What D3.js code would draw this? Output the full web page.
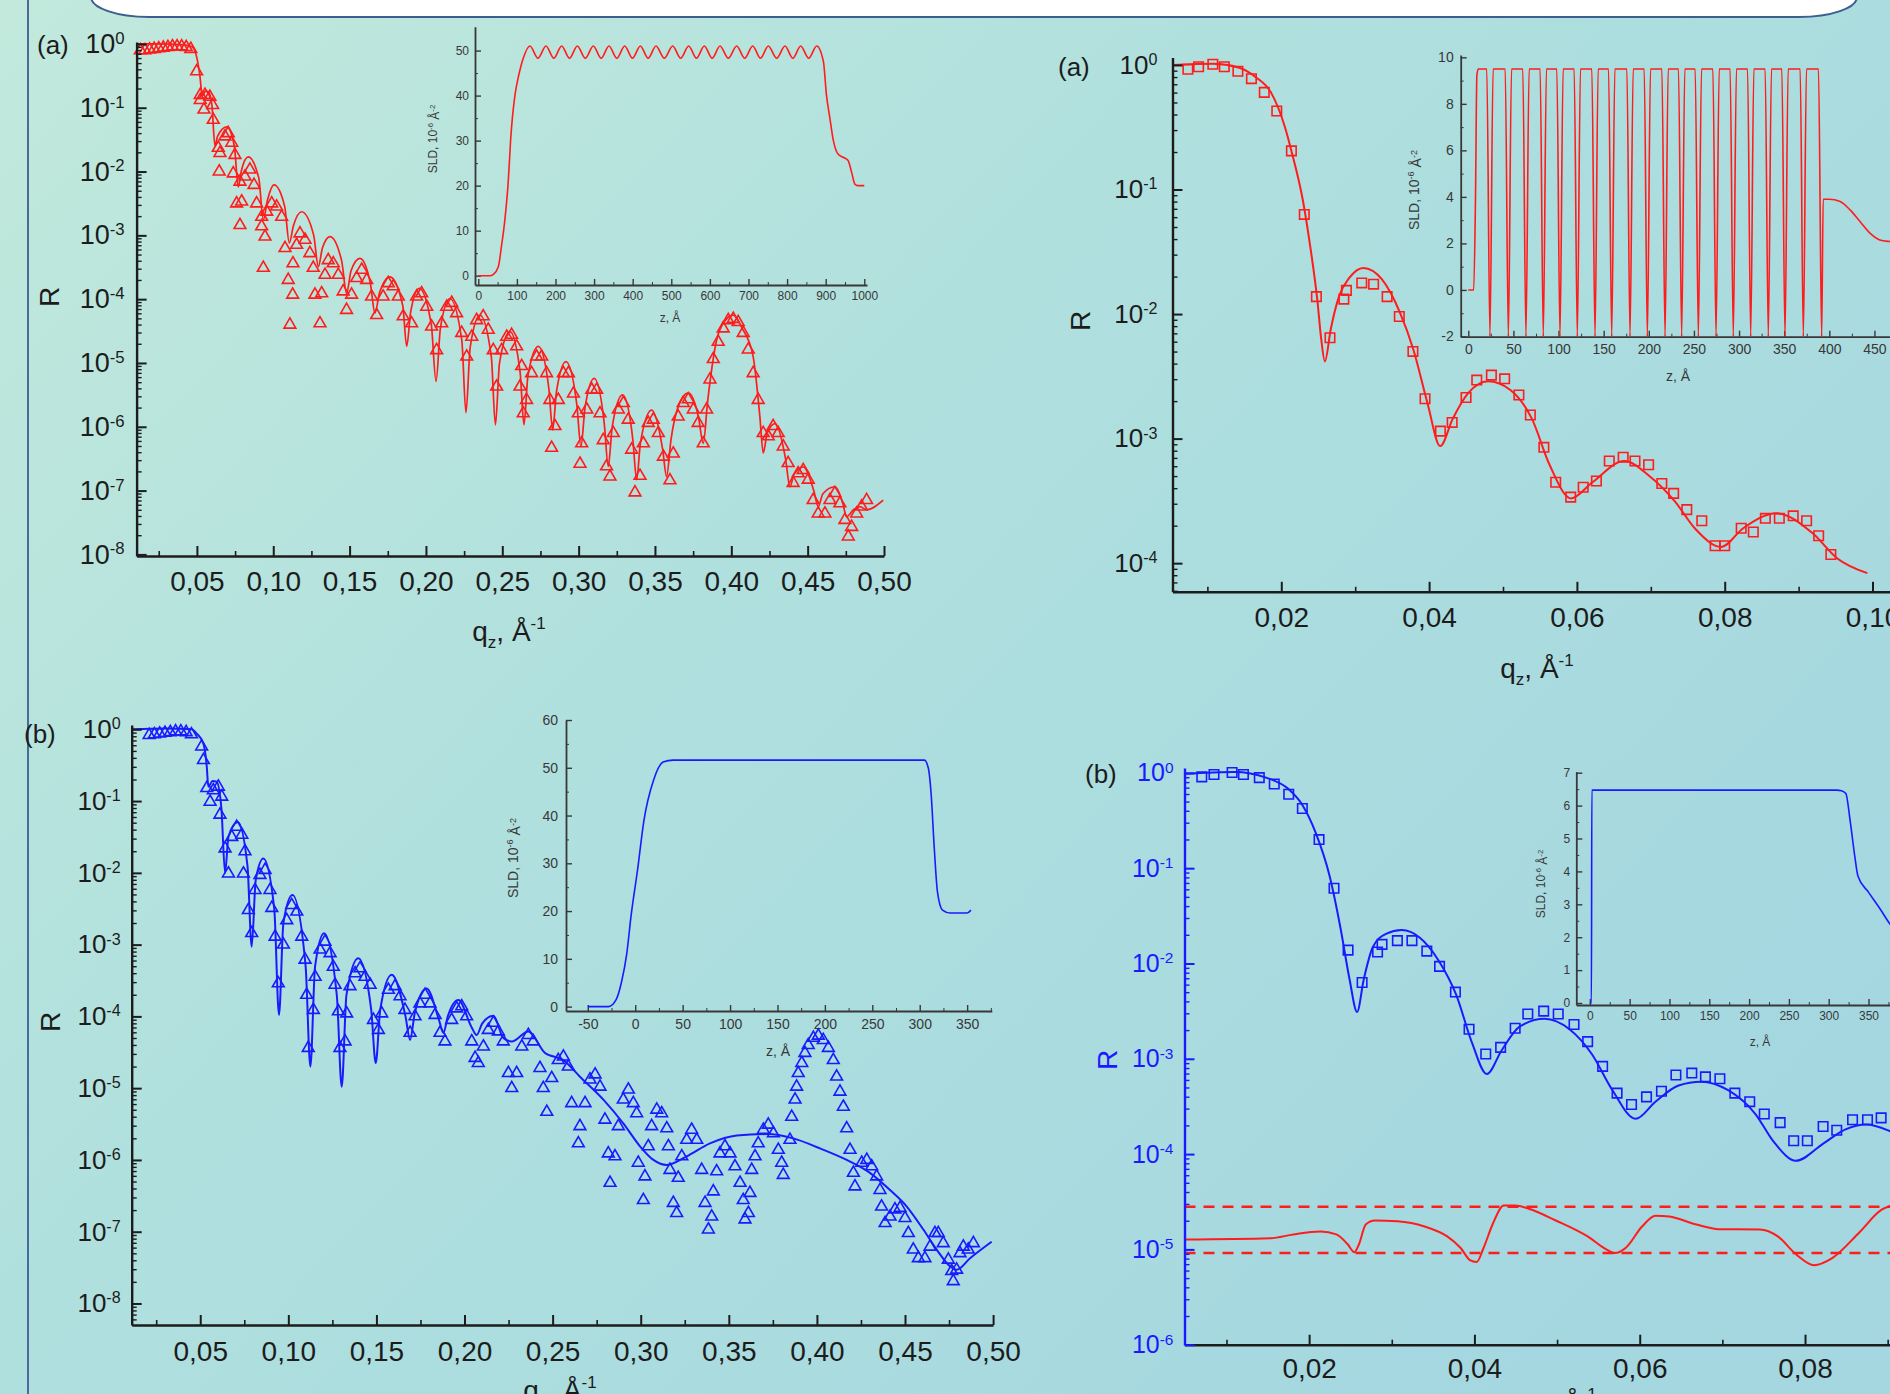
<!DOCTYPE html>
<html>
<head>
<meta charset="utf-8">
<script src="https://cdn.jsdelivr.net/npm/d3@7"></script>
<style>
  html, body { margin: 0; padding: 0; background: #b0e0de; }
  svg { display: block; }
</style>
</head>
<body>
<div id="chart"></div>
<script>
const W = 1890, H = 1394;
const RED = "#ff1c1c", BLUE = "#1a1aff", INK = "#1c1c1c", INSET_INK = "#383838";
const FONT = '"Liberation Sans", Arial, Helvetica, sans-serif';

// ---- data: reflectivity values are stored as log10(R) ----

// (a) left: fit curve and measured points (triangles)
const tlFit = [[0.0105,0],[0.025,0],[0.04,-0.01],[0.0466,-0.04],[0.0498,-0.2],[0.052,-0.51],[0.0535,-0.82],
  [0.0556,-0.74],[0.0575,-0.75],[0.0598,-0.95],[0.0618,-1.6],[0.0635,-1.45],[0.0695,-1.30],[0.0745,-1.6],
  [0.0771,-2.24],[0.0792,-1.98],[0.0836,-1.77],[0.0905,-2.1],[0.0935,-2.76],[0.0962,-2.45],[0.1005,-2.21],
  [0.1075,-2.55],[0.1105,-3.12],[0.1132,-2.85],[0.1186,-2.63],[0.1265,-3.0],[0.1295,-3.49],[0.1322,-3.2],
  [0.1371,-3.02],[0.1448,-3.4],[0.148,-3.91],[0.151,-3.55],[0.1568,-3.36],[0.1636,-3.75],[0.1666,-4.22],
  [0.1696,-3.9],[0.1764,-3.65],[0.1848,-4.1],[0.1874,-4.74],[0.190,-4.2],[0.1956,-3.83],[0.2035,-4.4],
  [0.2066,-5.29],[0.2095,-4.45],[0.2157,-3.99],[0.2235,-4.65],[0.2262,-5.78],[0.229,-4.75],[0.2354,-4.25],
  [0.2428,-4.9],[0.2455,-5.97],[0.2482,-5.0],[0.255,-4.51],[0.2617,-5.15],[0.2642,-5.97],[0.2668,-5.2],
  [0.2736,-4.74],[0.2805,-5.4],[0.283,-6.05],[0.2855,-5.45],[0.2917,-4.98],[0.2988,-5.65],[0.3015,-6.31],
  [0.3042,-5.7],[0.3102,-5.24],[0.3168,-5.95],[0.3194,-6.62],[0.322,-6.0],[0.3288,-5.50],[0.3355,-6.2],
  [0.338,-6.83],[0.3405,-6.25],[0.3478,-5.74],[0.355,-6.35],[0.3576,-6.78],[0.3605,-6.2],[0.365,-5.7],
  [0.3718,-5.47],[0.3785,-5.85],[0.3816,-6.26],[0.3845,-5.6],[0.3904,-4.64],[0.3955,-4.35],[0.4012,-4.25],
  [0.407,-4.45],[0.4143,-4.90],[0.4187,-5.84],[0.4209,-6.41],[0.4235,-6.1],[0.4286,-5.95],[0.4355,-6.5],
  [0.4384,-6.94],[0.441,-6.75],[0.4471,-6.63],[0.454,-7.0],[0.4569,-7.25],[0.46,-7.05],[0.4678,-6.94],
  [0.473,-7.2],[0.4755,-7.41],[0.48,-7.3],[0.4842,-7.25],[0.4886,-7.3],[0.4995,-7.15]];

const tlPoints = [[0.013,-0.10],[0.016,-0.10],[0.019,-0.09],[0.022,-0.08],[0.025,-0.07],[0.028,-0.06],[0.031,-0.05],
  [0.034,-0.04],[0.037,-0.04],[0.040,-0.04],[0.043,-0.05],[0.046,-0.08],[0.0498,-0.43],[0.0522,-0.80],[0.0522,-0.88],
  [0.0553,-0.80],[0.0585,-0.83],[0.0603,-0.96],[0.0546,-1.03],[0.0607,-1.19],[0.064,-1.63],[0.0651,-1.71],
  [0.0684,-1.45],[0.0705,-1.40],[0.0728,-1.55],[0.0749,-1.74],[0.0646,-2.0],[0.0738,-2.03],[0.0782,-2.16],
  [0.0815,-2.08],[0.0847,-1.97],[0.0874,-2.21],[0.0793,-2.47],[0.076,-2.50],[0.0782,-2.84],[0.0891,-2.50],
  [0.0924,-2.71],[0.0957,-2.63],[0.099,-2.50],[0.1022,-2.55],[0.1055,-2.71],[0.0924,-2.86],[0.0946,-3.02],
  [0.0935,-3.51],[0.1077,-3.20],[0.1098,-3.70],[0.1127,-3.93],[0.1109,-4.40],[0.1129,-3.44],[0.1153,-3.15],
  [0.1175,-2.97],[0.1208,-3.07],[0.124,-3.28],[0.1262,-3.51],[0.1273,-3.93],[0.1306,-4.38],[0.1317,-3.91],
  [0.1339,-3.62],[0.136,-3.39],[0.1393,-3.44],[0.1426,-3.62],[0.1458,-3.88],[0.148,-4.17],[0.1513,-3.93],
  [0.1546,-3.67],[0.1579,-3.54],[0.1612,-3.70],[0.1644,-3.96],[0.1677,-4.25],[0.172,-3.96],[0.1753,-3.75],
  [0.1786,-3.80],[0.1819,-3.96],[0.1851,-4.27],[0.1906,-4.38],[0.1939,-3.96],[0.1972,-3.91],[0.2005,-4.12],
  [0.2037,-4.43],[0.207,-4.80],[0.2103,-4.38],[0.2136,-4.12],[0.2169,-4.06],[0.2201,-4.22],[0.2234,-4.53],
  [0.2267,-4.90],[0.23,-4.59],[0.2332,-4.33],[0.2375,-4.27],[0.2408,-4.48],[0.2441,-4.80],[0.2463,-5.37],
  [0.2496,-4.80],[0.2529,-4.59],[0.2561,-4.56],[0.2594,-4.74],[0.2627,-5.05],[0.2616,-5.37],[0.2637,-5.79],
  [0.2659,-5.58],[0.2692,-5.16],[0.2725,-4.90],[0.2758,-4.90],[0.279,-5.16],[0.2812,-5.58],[0.2823,-6.33],
  [0.2845,-5.99],[0.2867,-5.58],[0.29,-5.16],[0.2933,-5.16],[0.2966,-5.48],[0.2998,-5.79],[0.3009,-6.58],
  [0.302,-6.26],[0.3053,-5.73],[0.3086,-5.42],[0.3118,-5.42],[0.314,-5.79],[0.3161,-6.21],[0.3183,-6.62],
  [0.3205,-6.78],[0.3227,-6.10],[0.326,-5.73],[0.3293,-5.63],[0.3325,-5.89],[0.3347,-6.36],[0.3369,-7.03],
  [0.3402,-6.77],[0.3424,-6.26],[0.3456,-5.94],[0.3489,-5.89],[0.3522,-6.10],[0.3555,-6.47],[0.3598,-6.84],
  [0.362,-6.42],[0.3652,-5.84],[0.3685,-5.63],[0.3718,-5.57],[0.3751,-5.73],[0.3783,-5.94],[0.3816,-6.26],
  [0.3838,-5.73],[0.386,-5.26],[0.3882,-4.94],[0.3914,-4.67],[0.3947,-4.46],[0.398,-4.33],[0.4013,-4.31],
  [0.4045,-4.36],[0.4078,-4.53],[0.4111,-4.79],[0.4143,-5.16],[0.4176,-5.58],[0.4209,-6.10],[0.4242,-6.15],
  [0.4274,-5.99],[0.4307,-6.10],[0.434,-6.31],[0.4372,-6.57],[0.4405,-6.88],[0.4438,-6.73],[0.4471,-6.68],
  [0.4504,-6.83],[0.4536,-7.15],[0.4569,-7.36],[0.4613,-7.36],[0.4646,-7.15],[0.4678,-7.04],[0.4711,-7.20],
  [0.4744,-7.46],[0.4766,-7.72],[0.4788,-7.57],[0.4821,-7.36],[0.4853,-7.25],[0.4886,-7.15]];

// (a) left inset: SLD profile (z in Å, SLD in 1e-6 Å^-2)
const tlSldRise = [[0,0],[30,0],[39,0.3],[52,2],[60,6.5],[69,12.5],[78,21.4],[84,30.4],[95,40.1],[104,44.2],[117,48.4]];
const tlSldWave = [[133.9,51],[154.6,48.3],[175.4,51],[195.7,48.3],[216,51],[236.3,48.3],[256.6,51],[277.3,48.3],
  [298,51],[318.3,48.3],[338.6,51],[359,48.3],[379.3,51],[399.5,48.3],[419.8,51],[440.1,48.3],[460.4,51],
  [482,48.3],[503.6,51],[524.3,48.3],[545,51],[565.3,48.3],[585.5,51],[605.9,48.3],[626.2,51],[647.8,48.3],
  [669.4,51],[690.2,48.3],[710.9,51],[731.1,48.3],[751.3,51],[773,48.3],[794.6,51],[814.9,48.3],[835.2,51],
  [856,48.3],[876.7,51]];
const tlSldFall = [[894,47.6],[902,40.1],[911,34.9],[919,30.4],[932,27.0],[945,26.3],[958,25.6],[967,23.0],
  [976,20.3],[985,20],[1000,20]];

// (a) right: fit curve and measured points (squares)
const trFit = [[0.00528,0],[0.0108,0.01],[0.0142,-0.02],[0.0166,-0.10],[0.0186,-0.22],[0.0205,-0.50],
  [0.02137,-0.69],[0.0229,-1.08],[0.0239,-1.45],[0.0249,-1.9],[0.0254,-2.2],[0.0259,-2.38],[0.0267,-2.12],
  [0.0278,-1.86],[0.0292,-1.71],[0.0311,-1.63],[0.0336,-1.72],[0.036,-1.98],[0.0379,-2.29],[0.0398,-2.72],
  [0.0415,-3.06],[0.0432,-2.84],[0.0452,-2.64],[0.048,-2.54],[0.051,-2.61],[0.0539,-2.84],[0.0563,-3.21],
  [0.0592,-3.48],[0.0621,-3.35],[0.0664,-3.18],[0.0698,-3.30],[0.0732,-3.50],[0.0761,-3.73],[0.0795,-3.87],
  [0.0825,-3.72],[0.087,-3.60],[0.0919,-3.76],[0.0952,-3.96],[0.0993,-4.08]];
const trPoints = [[0.00736,-0.034],[0.00881,-0.014],[0.01074,0.006],[0.01229,-0.014],[0.01413,-0.05],
  [0.01596,-0.11],[0.0177,-0.22],[0.01939,-0.37],[0.02137,-0.69],[0.02311,-1.20],[0.02475,-1.86],
  [0.02659,-2.19],[0.02847,-1.88],[0.02881,-1.81],[0.03089,-1.75],[0.03249,-1.76],[0.03432,-1.86],
  [0.03597,-2.02],[0.03781,-2.30],[0.03945,-2.68],[0.04153,-2.94],[0.04312,-2.87],[0.045,-2.67],
  [0.04645,-2.53],[0.04843,-2.49],[0.05022,-2.52],[0.05215,-2.65],[0.0537,-2.81],[0.05553,-3.07],
  [0.05713,-3.35],[0.05916,-3.47],[0.06085,-3.39],[0.06264,-3.34],[0.06438,-3.18],[0.06626,-3.15],
  [0.06786,-3.18],[0.0697,-3.21],[0.07149,-3.36],[0.07309,-3.44],[0.07487,-3.57],[0.0769,-3.66],
  [0.0787,-3.86],[0.08,-3.86],[0.08223,-3.72],[0.08387,-3.75],[0.0855,-3.64],[0.08739,-3.64],
  [0.08927,-3.62],[0.09108,-3.66],[0.09271,-3.78],[0.09436,-3.93]];

// (a) right inset: multilayer SLD profile
const trSld = [[0,0],[6,0],[8,4],[9.5,9.2],[11,9.5],
  [20.5,9.5],[24.0,-2],[27.5,9.5],[40.9,9.5],[44.4,-2],[47.9,9.5],[60.4,9.5],[63.9,-2],[67.4,9.5],
  [79.6,9.5],[83.1,-2],[86.6,9.5],[98.1,9.5],[101.6,-2],[105.1,9.5],[117.3,9.5],[120.8,-2],[124.3,9.5],
  [136.9,9.5],[140.4,-2],[143.9,9.5],[155.4,9.5],[158.9,-2],[162.4,9.5],[175.7,9.5],[179.2,-2],[182.7,9.5],
  [194.9,9.5],[198.4,-2],[201.9,9.5],[214.5,9.5],[218.0,-2],[221.5,9.5],[232.9,9.5],[236.4,-2],[239.9,9.5],
  [251.4,9.5],[254.9,-2],[258.4,9.5],[271.0,9.5],[274.5,-2],[278.0,9.5],[290.1,9.5],[293.6,-2],[297.1,9.5],
  [309.4,9.5],[312.9,-2],[316.4,9.5],[328.9,9.5],[332.4,-2],[335.9,9.5],[347.4,9.5],[350.9,-2],[354.4,9.5],
  [367.7,9.5],[371.2,-2],[374.7,9.5],[388,9.5],[391.5,-2],[393.2,3.9],[400,3.9],[412,3.8],[423,3.44],
  [434,2.94],[445,2.44],[456,2.15],[467,2.08],[480,2.05]];

// (b) left: fit curve and measured points (triangles)
const blFit = [[0.0111,0],[0.03,0.01],[0.045,0],[0.048,-0.06],[0.0518,-0.2],[0.0537,-0.52],[0.0546,-0.8],
  [0.057,-0.72],[0.0593,-0.73],[0.062,-1.1],[0.0641,-2.0],[0.066,-1.5],[0.0713,-1.29],[0.0768,-1.9],
  [0.0792,-3.03],[0.0815,-2.1],[0.0858,-1.80],[0.092,-2.5],[0.0947,-3.98],[0.0972,-2.7],[0.1023,-2.31],
  [0.1098,-3.3],[0.1125,-4.70],[0.1152,-3.3],[0.1203,-2.84],[0.1275,-3.7],[0.1303,-4.98],[0.133,-3.7],
  [0.1397,-3.19],[0.147,-3.9],[0.1496,-4.65],[0.1522,-3.9],[0.1587,-3.42],[0.1665,-4.0],[0.1691,-4.33],
  [0.1718,-3.95],[0.1785,-3.61],[0.1855,-4.05],[0.188,-4.23],[0.1905,-4.0],[0.1965,-3.77],[0.204,-4.15],
  [0.2069,-4.26],[0.21,-4.1],[0.2164,-3.99],[0.222,-4.3],[0.2268,-4.35],[0.2362,-4.21],[0.2457,-4.51],
  [0.2561,-4.61],[0.2655,-4.84],[0.2788,-5.16],[0.2901,-5.49],[0.2996,-5.81],[0.3072,-6.0],[0.3148,-6.07],
  [0.3261,-5.95],[0.3393,-5.77],[0.3545,-5.66],[0.3715,-5.64],[0.3866,-5.70],[0.4018,-5.84],[0.4169,-6.0],
  [0.4301,-6.18],[0.4415,-6.42],[0.451,-6.65],[0.4604,-6.97],[0.468,-7.25],[0.4755,-7.48],[0.4793,-7.53],
  [0.4869,-7.37],[0.4992,-7.14]];

const blPoints = [[0.021,-0.08],[0.024,-0.07],[0.027,-0.06],[0.030,-0.05],[0.033,-0.04],[0.036,-0.03],[0.039,-0.03],
  [0.042,-0.04],[0.045,-0.07],[0.0508,-0.24],[0.0518,-0.43],[0.0537,-0.82],[0.0556,-1.01],[0.0574,-0.85],
  [0.0603,-0.80],[0.0622,-0.94],[0.0612,-1.19],[0.0641,-1.66],[0.066,-2.01],[0.0679,-1.50],[0.0707,-1.36],
  [0.0736,-1.47],[0.0754,-1.70],[0.0745,-2.01],[0.0773,-2.52],[0.0792,-2.84],[0.0811,-2.24],[0.0839,-2.03],
  [0.0868,-1.96],[0.0896,-2.24],[0.0906,-2.49],[0.0925,-2.89],[0.0943,-3.54],[0.0972,-3.00],[0.0991,-2.66],
  [0.1019,-2.45],[0.1048,-2.54],[0.1076,-2.89],[0.1095,-3.21],[0.1104,-3.70],[0.1113,-4.44],[0.1142,-3.91],
  [0.1152,-3.45],[0.118,-3.07],[0.1208,-2.96],[0.1237,-3.12],[0.1255,-3.31],[0.1265,-3.56],[0.1284,-3.93],
  [0.1293,-4.44],[0.1322,-4.35],[0.1331,-3.96],[0.135,-3.58],[0.1379,-3.40],[0.1407,-3.33],[0.1435,-3.45],
  [0.1464,-3.56],[0.1483,-4.05],[0.1511,-4.19],[0.153,-3.96],[0.1568,-3.63],[0.1606,-3.58],[0.1634,-3.72],
  [0.1662,-3.91],[0.1691,-4.23],[0.1719,-4.00],[0.1747,-3.82],[0.1776,-3.70],[0.1804,-3.82],[0.1833,-3.98],
  [0.1861,-4.23],[0.1889,-4.35],[0.1927,-4.05],[0.1956,-3.89],[0.1984,-3.86],[0.2012,-4.00],[0.2041,-4.35],
  [0.206,-4.58],[0.2078,-4.65],[0.2107,-4.42],[0.2135,-4.19],[0.2164,-4.09],[0.2192,-4.21],[0.222,-4.35],
  [0.2249,-4.79],[0.2268,-5.00],[0.2296,-4.79],[0.2325,-4.42],[0.2362,-4.26],[0.239,-4.35],[0.2428,-4.72],
  [0.2447,-5.00],[0.2467,-5.33],[0.2495,-4.86],[0.2532,-4.61],[0.2561,-4.56],[0.2589,-4.70],[0.2608,-5.21],
  [0.2655,-5.53],[0.2646,-5.77],[0.2684,-5.21],[0.2712,-4.88],[0.2741,-4.81],[0.2769,-4.98],[0.2797,-5.44],
  [0.2826,-6.32],[0.2816,-5.91],[0.2854,-5.95],[0.2873,-5.53],[0.2901,-5.16],[0.293,-5.02],[0.2958,-5.21],
  [0.2977,-5.35],[0.2986,-6.04],[0.3015,-6.56],[0.3024,-6.23],[0.3043,-5.81],[0.3062,-5.53],[0.3091,-5.30],
  [0.3119,-5.35],[0.3148,-5.56],[0.3157,-5.81],[0.3166,-6.14],[0.3185,-6.60],[0.3204,-6.74],[0.3213,-6.25],
  [0.3233,-5.95],[0.3261,-5.72],[0.3289,-5.58],[0.3318,-5.72],[0.3346,-6.14],[0.3365,-6.60],[0.3384,-6.97],
  [0.3403,-6.79],[0.3412,-6.44],[0.3431,-6.16],[0.345,-5.91],[0.3478,-5.81],[0.3507,-5.91],[0.3535,-6.09],
  [0.3564,-6.32],[0.3582,-6.56],[0.3592,-6.83],[0.3611,-6.74],[0.362,-6.46],[0.363,-6.14],[0.3649,-5.95],
  [0.3667,-5.77],[0.3696,-5.58],[0.3724,-5.51],[0.3753,-5.63],[0.3781,-5.86],[0.38,-6.04],[0.3809,-6.21],
  [0.3847,-5.72],[0.3857,-5.40],[0.3876,-5.16],[0.3885,-4.98],[0.3894,-4.79],[0.3914,-4.65],[0.3932,-4.51],
  [0.3951,-4.40],[0.398,-4.30],[0.4008,-4.27],[0.4036,-4.33],[0.4065,-4.44],[0.4093,-4.61],[0.4112,-4.84],
  [0.4131,-5.05],[0.415,-5.26],[0.4169,-5.56],[0.4188,-5.86],[0.4207,-6.18],[0.4216,-6.37],[0.4254,-6.04],
  [0.4283,-6.0],[0.4311,-6.09],[0.4339,-6.23],[0.4358,-6.42],[0.4367,-6.65],[0.4387,-6.88],[0.4415,-6.79],
  [0.4443,-6.69],[0.4472,-6.67],[0.45,-6.81],[0.4519,-7.02],[0.4547,-7.25],[0.4576,-7.37],[0.4613,-7.37],
  [0.4642,-7.21],[0.467,-7.02],[0.4689,-7.02],[0.4717,-7.16],[0.4746,-7.39],[0.4765,-7.55],[0.4774,-7.69],
  [0.4793,-7.53],[0.4812,-7.30],[0.4831,-7.21],[0.4859,-7.25],[0.4888,-7.16]];

// (b) left inset: SLD profile
const blSld = [[-50,0],[-28,0],[-20,1.5],[-14.4,5.2],[-9,11],[-4.2,19.3],[2.5,28.7],[9.2,39],[19.3,47.4],
  [29.4,51.2],[40,51.6],[305,51.6],[309,50],[312,44.6],[315.3,33.3],[318.7,24],[324,20.2],[332,19.6],
  [350,19.6],[354,20.2]];

// (b) right: fit, measured points (squares), residual curve and its limits
const brFit = [[0.00492,-0.01],[0.011,0.01],[0.0148,-0.05],[0.0175,-0.17],[0.0192,-0.34],[0.0208,-0.63],
  [0.0225,-1.09],[0.0238,-1.63],[0.0249,-2.17],[0.0258,-2.51],[0.0266,-2.17],[0.0277,-1.83],[0.0293,-1.69],
  [0.0312,-1.65],[0.0334,-1.73],[0.0356,-1.96],[0.0378,-2.33],[0.0397,-2.83],[0.0415,-3.16],[0.0433,-2.91],
  [0.0455,-2.66],[0.0485,-2.58],[0.0515,-2.69],[0.0542,-2.95],[0.0567,-3.33],[0.0595,-3.63],[0.0619,-3.45],
  [0.0647,-3.28],[0.0674,-3.24],[0.0707,-3.33],[0.074,-3.58],[0.0762,-3.87],[0.0789,-4.07],[0.0822,-3.89],
  [0.0849,-3.74],[0.0874,-3.69],[0.0903,-3.76],[0.095,-4.0]];
const brPoints = [[0.00701,-0.042],[0.00849,-0.017],[0.01068,0.004],[0.01205,-0.017],[0.01397,-0.05],
  [0.01578,-0.117],[0.01753,-0.225],[0.01918,-0.374],[0.0212,-0.70],[0.02301,-1.21],[0.02471,-1.86],
  [0.02641,-2.20],[0.02828,-1.88],[0.02882,-1.80],[0.03068,-1.76],[0.03244,-1.76],[0.03424,-1.87],
  [0.03578,-2.03],[0.0377,-2.30],[0.03935,-2.69],[0.04137,-2.95],[0.04317,-2.88],[0.04493,-2.68],
  [0.04646,-2.53],[0.04838,-2.50],[0.05014,-2.53],[0.05205,-2.64],[0.0537,-2.82],[0.05551,-3.08],
  [0.05726,-3.36],[0.05901,-3.48],[0.06082,-3.40],[0.06263,-3.34],[0.06438,-3.17],[0.0663,-3.15],
  [0.06795,-3.19],[0.0697,-3.21],[0.07151,-3.36],[0.07331,-3.45],[0.07507,-3.58],[0.07699,-3.67],
  [0.07863,-3.86],[0.08028,-3.86],[0.08219,-3.71],[0.08384,-3.75],[0.08575,-3.64],[0.08756,-3.64],
  [0.08921,-3.62]];
const brResidual = [[0.00492,-4.896],[0.01534,-4.883],[0.01808,-4.843],[0.02137,-4.813],[0.02329,-4.843],
  [0.02466,-4.946],[0.02548,-5.029],[0.02603,-4.946],[0.02685,-4.739],[0.02794,-4.697],[0.03068,-4.705],
  [0.03397,-4.760],[0.03671,-4.864],[0.03836,-4.988],[0.03946,-5.112],[0.04027,-5.132],[0.04109,-4.988],
  [0.04219,-4.739],[0.04356,-4.539],[0.04492,-4.539],[0.04657,-4.573],[0.04986,-4.697],[0.0537,-4.864],
  [0.05589,-4.996],[0.05699,-5.038],[0.05836,-4.979],[0.06028,-4.760],[0.06191,-4.647],[0.06356,-4.656],
  [0.06685,-4.739],[0.06958,-4.788],[0.07452,-4.792],[0.07671,-4.864],[0.0789,-5.05],[0.0811,-5.166],
  [0.08329,-5.091],[0.08657,-4.822],[0.08932,-4.581],[0.0905,-4.54]];
const brLimits = [-4.552, -5.038];

// (b) right inset: SLD profile
const brSld = [[0,0],[2,0],[2.5,6.47],[310,6.47],[316,6.45],[321.5,6.37],[327,5.53],[332.8,4.45],
  [336.8,3.85],[349.9,3.37],[364,2.88],[377,2.40],[400,1.9]];

// ---- page ----
const svg = d3.select("#chart").append("svg")
  .attr("width", W).attr("height", H)
  .attr("font-family", FONT);

const defs = svg.append("defs");
const bg = defs.append("linearGradient").attr("id", "bg")
  .attr("x1", 0).attr("y1", 0).attr("x2", 1).attr("y2", 0.7);
bg.append("stop").attr("offset", "0%").attr("stop-color", "#c2e9dc");
bg.append("stop").attr("offset", "45%").attr("stop-color", "#b0e0de");
bg.append("stop").attr("offset", "100%").attr("stop-color", "#a4d7e0");
svg.append("rect").attr("width", W).attr("height", H).attr("fill", "url(#bg)");

// white header box cut by the top edge, and the frame line on the left
svg.append("rect")
  .attr("x", 91).attr("y", -60).attr("width", 1766).attr("height", 77)
  .attr("rx", 58).attr("ry", 20)
  .attr("fill", "#ffffff").attr("stroke", "#3d5f8e").attr("stroke-width", 2);
svg.append("line")
  .attr("x1", 28).attr("x2", 28).attr("y1", 0).attr("y2", H)
  .attr("stroke", "#4a6b98").attr("stroke-width", 2);

const pow10 = v => Math.pow(10, v);
const plain = d => String(d);   // "-2", "1000": hyphen minus, no thousands separator

// ---- helpers ----
function xAxisMain(p, x) {
  const minor = svg.append("g").attr("transform", `translate(0,${p.yRange[0]})`).attr("color", INK)
    .call(d3.axisBottom(x).tickValues(p.xMinor).tickSizeInner(-5).tickSizeOuter(0).tickFormat(""));
  minor.select(".domain").remove();
  minor.selectAll(".tick line").attr("stroke-width", 1.6);

  const a = svg.append("g").attr("transform", `translate(0,${p.yRange[0]})`).attr("color", INK)
    .call(d3.axisBottom(x).tickValues(p.xMajor).tickSizeInner(-10).tickSizeOuter(0)
      .tickPadding(p.xPad).tickFormat(d => d3.format(".2f")(d).replace(".", ",")));
  a.attr("font-family", FONT).attr("font-size", p.xFont);
  a.select(".domain").attr("stroke-width", 2.4);
  a.selectAll(".tick line").attr("stroke-width", 2);
  a.selectAll(".tick text").attr("fill", INK);
}

function yAxisLog(p, y) {
  const lo = Math.ceil(p.yLog[0]), hi = Math.floor(p.yLog[1]);
  const majors = d3.range(lo, hi + 1).map(pow10);
  const minors = [];
  d3.range(lo - 1, hi + 1).forEach(k => d3.range(2, 10).forEach(m => {
    const v = m * pow10(k);
    if (v > y.domain()[0] && v < y.domain()[1]) minors.push(v);
  }));

  const minor = svg.append("g").attr("transform", `translate(${p.xRange[0]},0)`).attr("color", p.axisColor)
    .call(d3.axisLeft(y).tickValues(minors).tickSizeInner(-5).tickSizeOuter(0).tickFormat(""));
  minor.select(".domain").remove();
  minor.selectAll(".tick line").attr("stroke-width", 1.4);

  const a = svg.append("g").attr("transform", `translate(${p.xRange[0]},0)`).attr("color", p.axisColor)
    .call(d3.axisLeft(y).tickValues(majors).tickSizeInner(-10).tickSizeOuter(0).tickPadding(p.yPad));
  a.attr("font-family", FONT).attr("font-size", p.yFont);
  a.select(".domain").attr("stroke-width", 2.4);
  a.selectAll(".tick line").attr("stroke-width", 2);
  a.selectAll(".tick text").attr("fill", p.labelColor).each(function (d) {
    const t = d3.select(this).text("");
    t.append("tspan").text("10");
    t.append("tspan").attr("dy", "-0.55em").attr("font-size", "0.62em").text(Math.round(Math.log10(d)));
  });
}

function qTitle(cx, base, color) {
  const t = svg.append("text").attr("x", cx).attr("y", base).attr("text-anchor", "middle")
    .attr("font-size", 28).attr("fill", color);
  t.append("tspan").text("q");
  t.append("tspan").attr("dy", 7).attr("font-size", 17).text("z");
  t.append("tspan").attr("dy", -7).text(", Å");
  t.append("tspan").attr("dy", -12).attr("font-size", 17).text("-1");
}

function rTitle(cx, cy, color) {
  svg.append("text").attr("transform", `translate(${cx},${cy}) rotate(-90)`)
    .attr("text-anchor", "middle").attr("dy", "0.36em")
    .attr("font-size", 28).attr("fill", color).text("R");
}

function panelTag(x, base, label) {
  svg.append("text").attr("x", x).attr("y", base).attr("font-size", 26).attr("fill", INK).text(label);
}

function markers(points, x, y, type, size, color) {
  svg.append("g").selectAll("path").data(points).join("path")
    .attr("transform", d => `translate(${x(d[0])},${y(pow10(d[1]))})`)
    .attr("d", d3.symbol(type, size))
    .attr("fill", "none").attr("stroke", color).attr("stroke-width", 1.6);
}

function logLine(data, x, y, color, width) {
  svg.append("path").datum(data)
    .attr("d", d3.line().x(d => x(d[0])).y(d => y(pow10(d[1]))).curve(d3.curveMonotoneX))
    .attr("fill", "none").attr("stroke", color).attr("stroke-width", width)
    .attr("stroke-linejoin", "round");
}

function inset(p, profile, color, curve) {
  const x = d3.scaleLinear().domain(p.xDomain).range(p.xRange);
  const y = d3.scaleLinear().domain(p.yDomain).range(p.yRange);
  const g = svg.append("g");

  const xm = g.append("g").attr("transform", `translate(0,${p.yRange[0]})`).attr("color", INSET_INK)
    .call(d3.axisBottom(x).tickValues(p.xMinor).tickSizeInner(-3).tickSizeOuter(0).tickFormat(""));
  xm.select(".domain").remove();
  const ym = g.append("g").attr("transform", `translate(${p.xRange[0]},0)`).attr("color", INSET_INK)
    .call(d3.axisLeft(y).tickValues(p.yMinor).tickSizeInner(-3).tickSizeOuter(0).tickFormat(""));
  ym.select(".domain").remove();

  const xa = g.append("g").attr("transform", `translate(0,${p.yRange[0]})`).attr("color", INSET_INK)
    .call(d3.axisBottom(x).tickValues(p.xTicks).tickSizeInner(-6).tickSizeOuter(0)
      .tickPadding(p.xPad).tickFormat(plain));
  const ya = g.append("g").attr("transform", `translate(${p.xRange[0]},0)`).attr("color", INSET_INK)
    .call(d3.axisLeft(y).tickValues(p.yTicks).tickSizeInner(-6).tickSizeOuter(0)
      .tickPadding(p.yPad).tickFormat(plain));
  [xa, ya].forEach(a => {
    a.attr("font-family", FONT).attr("font-size", p.font);
    a.select(".domain").attr("stroke-width", 1.8);
    a.selectAll(".tick line").attr("stroke-width", 1.4);
    a.selectAll(".tick text").attr("fill", INSET_INK);
  });

  g.append("path").datum(profile)
    .attr("d", d3.line().x(d => x(d[0])).y(d => y(d[1])).curve(curve))
    .attr("fill", "none").attr("stroke", color).attr("stroke-width", 1.6).attr("stroke-linejoin", "round");

  const sl = g.append("text").attr("transform", `translate(${p.sldLabel[0]},${p.sldLabel[1]}) rotate(-90)`)
    .attr("text-anchor", "middle").attr("font-size", p.font).attr("fill", INSET_INK);
  sl.append("tspan").text("SLD, 10");
  sl.append("tspan").attr("dy", "-0.5em").attr("font-size", "0.65em").text("-6");
  sl.append("tspan").attr("dy", "0.5em").text(" Å");
  sl.append("tspan").attr("dy", "-0.5em").attr("font-size", "0.65em").text("-2");
  g.append("text").attr("x", p.zLabel[0]).attr("y", p.zLabel[1]).attr("text-anchor", "middle")
    .attr("dy", "0.35em").attr("font-size", p.font).attr("fill", INSET_INK).text("z, Å");
}

// ---- (a) left panel ----
const TL = {
  xDomain: [0.0105, 0.5], xRange: [136.6, 884], yLog: [-8.025, 0.03], yRange: [556, 42],
  xMajor: d3.range(1, 11).map(i => i * 0.05), xMinor: d3.range(0, 10).map(i => 0.025 + i * 0.05),
  xPad: 15, xFont: 28, yPad: 12, yFont: 27, axisColor: INK, labelColor: INK
};
const tlX = d3.scaleLinear().domain(TL.xDomain).range(TL.xRange);
const tlY = d3.scaleLog().domain(TL.yLog.map(pow10)).range(TL.yRange);
inset({
  xDomain: [-8.5, 1007], xRange: [475, 867], yDomain: [-2.07, 55.3], yRange: [285, 26.7],
  xTicks: d3.range(0, 1001, 100), xMinor: d3.range(50, 1000, 100),
  yTicks: d3.range(0, 51, 10), yMinor: d3.range(5, 55, 10),
  xPad: 6, yPad: 6, font: 12, sldLabel: [437, 139], zLabel: [670, 318]
}, tlSldRise.concat(tlSldWave, tlSldFall), RED, d3.curveMonotoneX);
markers(tlPoints, tlX, tlY, d3.symbolTriangle, 60, RED);
logLine(tlFit, tlX, tlY, RED, 1.7);
xAxisMain(TL, tlX);
yAxisLog(TL, tlY);
rTitle(49, 297, INK);
qTitle(509, 641, INK);
panelTag(37, 54, "(a)");

// ---- (a) right panel ----
const TR = {
  xDomain: [0.00528, 0.1025], xRange: [1172.5, 1891], yLog: [-4.23, 0.06], yRange: [591.8, 57.5],
  xMajor: [0.02, 0.04, 0.06, 0.08, 0.10], xMinor: [0.01, 0.03, 0.05, 0.07, 0.09],
  xPad: 15, xFont: 28, yPad: 15, yFont: 26, axisColor: INK, labelColor: INK
};
const trX = d3.scaleLinear().domain(TR.xDomain).range(TR.xRange);
const trY = d3.scaleLog().domain(TR.yLog.map(pow10)).range(TR.yRange);
inset({
  xDomain: [-8.4, 470], xRange: [1460.7, 1892.5], yDomain: [-2.01, 10.1], yRange: [336.7, 55],
  xTicks: d3.range(0, 451, 50), xMinor: d3.range(25, 470, 50),
  yTicks: d3.range(-2, 11, 2), yMinor: d3.range(-1, 10, 2),
  xPad: 7, yPad: 7, font: 14, sldLabel: [1419, 190], zLabel: [1678, 376]
}, trSld, RED, d3.curveMonotoneX);
markers(trPoints, trX, trY, d3.symbolSquare, 90, RED);
logLine(trFit, trX, trY, RED, 2);
xAxisMain(TR, trX);
yAxisLog(TR, trY);
rTitle(1080, 321, INK);
qTitle(1537, 678, INK);
panelTag(1058, 76, "(a)");

// ---- (b) left panel ----
const BL = {
  xDomain: [0.0111, 0.5], xRange: [131.7, 993.1], yLog: [-8.30, 0.06], yRange: [1325, 725],
  xMajor: d3.range(1, 11).map(i => i * 0.05), xMinor: d3.range(0, 10).map(i => 0.025 + i * 0.05),
  xPad: 16, xFont: 28, yPad: 11, yFont: 26, axisColor: INK, labelColor: INK
};
const blX = d3.scaleLinear().domain(BL.xDomain).range(BL.xRange);
const blY = d3.scaleLog().domain(BL.yLog.map(pow10)).range(BL.yRange);
inset({
  xDomain: [-73, 376], xRange: [566, 991.8], yDomain: [-0.92, 60], yRange: [1011, 720],
  xTicks: d3.range(-50, 351, 50), xMinor: d3.range(-25, 376, 50),
  yTicks: d3.range(0, 61, 10), yMinor: d3.range(5, 60, 10),
  xPad: 8, yPad: 8, font: 14, sldLabel: [518, 858], zLabel: [778, 1051]
}, blSld, BLUE, d3.curveMonotoneX);
markers(blPoints, blX, blY, d3.symbolTriangle, 60, BLUE);
logLine(blFit, blX, blY, BLUE, 2);
xAxisMain(BL, blX);
yAxisLog(BL, blY);
rTitle(50, 1022, INK);
qTitle(560, 1400, INK);
panelTag(24, 743, "(b)");

// ---- (b) right panel ----
const BR = {
  xDomain: [0.00492, 0.0905], xRange: [1184.5, 1891.8], yLog: [-6, 0.05], yRange: [1344.7, 768.1],
  xMajor: [0.02, 0.04, 0.06, 0.08], xMinor: [0.01, 0.03, 0.05, 0.07, 0.09],
  xPad: 13, xFont: 28, yPad: 11, yFont: 25, axisColor: BLUE, labelColor: BLUE
};
const brX = d3.scaleLinear().domain(BR.xDomain).range(BR.xRange);
const brY = d3.scaleLog().domain(BR.yLog.map(pow10)).range(BR.yRange);
inset({
  xDomain: [-17, 380], xRange: [1576.3, 1892.4], yDomain: [-0.06, 7.03], yRange: [1005, 771.7],
  xTicks: d3.range(0, 401, 50), xMinor: d3.range(25, 380, 50),
  yTicks: d3.range(0, 8, 1), yMinor: d3.range(0.5, 7, 1),
  xPad: 6, yPad: 6, font: 12, sldLabel: [1545, 884], zLabel: [1760, 1042]
}, brSld, BLUE, d3.curveMonotoneX);
brLimits.forEach(v => {
  svg.append("line")
    .attr("x1", brX(BR.xDomain[0])).attr("x2", brX(BR.xDomain[1]))
    .attr("y1", brY(pow10(v))).attr("y2", brY(pow10(v)))
    .attr("stroke", RED).attr("stroke-width", 2.4).attr("stroke-dasharray", "11,8");
});
logLine(brResidual, brX, brY, RED, 2);
markers(brPoints, brX, brY, d3.symbolSquare, 90, BLUE);
logLine(brFit, brX, brY, BLUE, 2);
xAxisMain(BR, brX);
yAxisLog(BR, brY);
rTitle(1107, 1060, BLUE);
qTitle(1560, 1412, INK);
panelTag(1085, 783, "(b)");
</script>
</body>
</html>
